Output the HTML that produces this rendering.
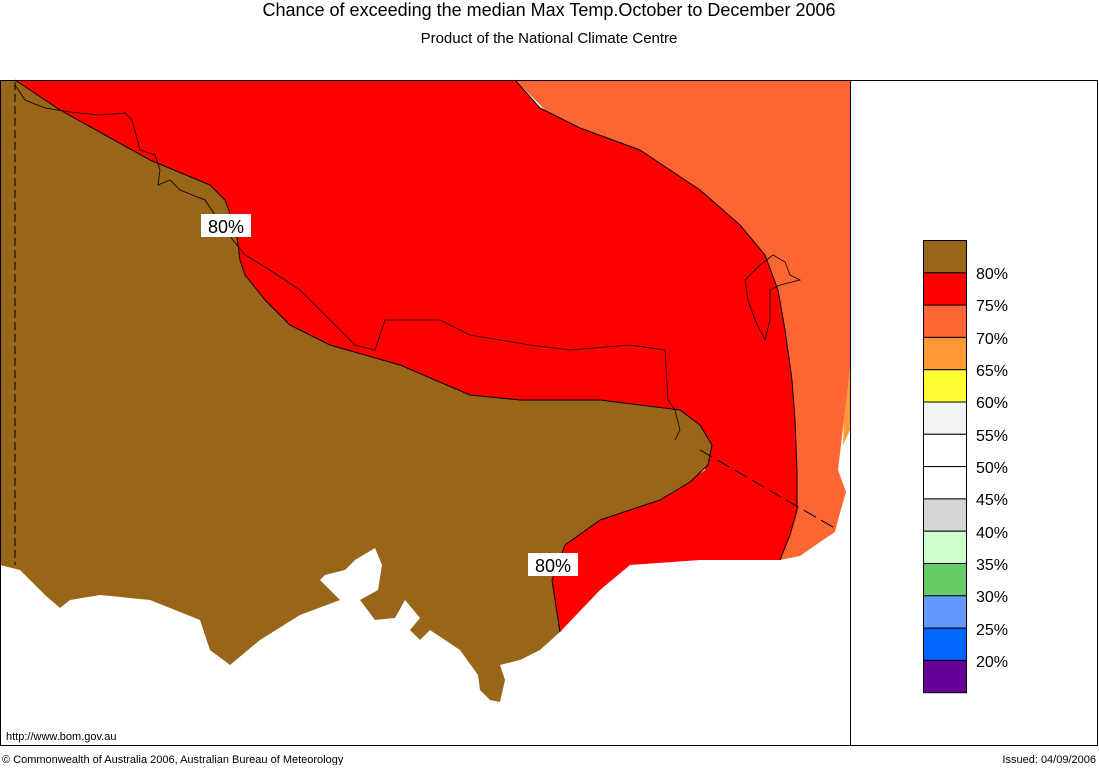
<!DOCTYPE html>
<html><head><meta charset="utf-8"><style>
body{margin:0;background:#fff;width:1099px;height:765px;overflow:hidden;font-family:"Liberation Sans",sans-serif;}
</style></head><body>
<svg width="1099" height="765" xmlns="http://www.w3.org/2000/svg" font-family="Liberation Sans, sans-serif">
<rect width="1099" height="765" fill="#fff"/>
<text x="549" y="16" font-size="18" text-anchor="middle">Chance of exceeding the median Max Temp.October to December 2006</text>
<text x="549" y="43" font-size="15" text-anchor="middle">Product of the National Climate Centre</text>
<!-- orange -->
<polygon fill="#ff6633" points="515,80 850,80 850,370 844,420 838,470 846,492 838,520 835,532 820,542 800,556 780,560 797,510 795,420 785,330 765,255 700,190 640,150 560,125"/>
<polygon fill="#ff9933" points="850,370 850,430 843,445 844,420"/>
<!-- red -->
<polygon fill="#ff0000" points="15,80 515,80 540,108 580,128 640,150 700,190 740,225 765,255 778,290 785,330 792,380 795,420 797,470 797,510 790,535 780,560 700,560 630,565 600,590 560,632 552,580 565,545 600,520 660,500 705,470 710,440 680,410 600,400 520,400 470,395 400,365 330,345 290,325 265,300 245,275 240,260 236,230 225,200 210,185 150,160 60,110"/>
<polyline fill="none" stroke="#000" stroke-width="1" stroke-linejoin="round" points="515,80 540,108 580,128 640,150 700,190 740,225 765,255 778,290 785,330 792,380 795,420 797,470 797,510 790,535 780,560"/>
<!-- brown -->
<polygon fill="#996619" points="0,80 15,80 60,110 150,160 210,185 225,200 236,230 240,260 245,275 265,300 290,325 330,345 400,365 470,395 520,400 600,400 680,410 700,425 712,445 708,465 690,482 660,500 600,520 565,545 552,580 560,632 540,650 520,660 500,665 505,680 500,702 490,700 480,690 478,675 460,650 430,630 420,640 410,630 420,618 405,600 395,618 375,620 360,600 378,590 382,565 375,548 355,560 345,570 325,575 320,580 340,600 300,615 260,640 230,665 210,650 200,620 150,600 100,595 70,600 60,608 45,595 20,570 0,565"/>
<polyline fill="none" stroke="#000" stroke-width="1" stroke-linejoin="round" points="15,80 60,110 150,160 210,185 225,200 236,230 240,260 245,275 265,300 290,325 330,345 400,365 470,395 520,400 600,400 680,410 700,425 712,445 708,465 690,482 660,500 600,520 565,545 552,580 560,632"/>
<polygon fill="#fff" points="345,580 360,565 375,555 380,570 375,590 360,598"/>
<!-- borders -->
<line x1="15" y1="82" x2="15" y2="565" stroke="#000" stroke-dasharray="8,4"/>
<polyline fill="none" stroke="#000" stroke-width="0.8" points="15,85 25,100 45,108 70,112 100,115 125,113 132,120 140,150 155,155 160,170 158,185 170,180 180,190 205,200 225,230 245,255 270,270 300,290 330,320 355,345 375,350 385,320 440,320 470,335 530,345 570,350 630,345 665,350 668,400 675,410 680,430 675,440"/>
<polyline fill="none" stroke="#000" stroke-width="0.8" points="773,255 785,262 790,275 800,280 780,285 770,290 770,320 765,340 755,320 748,300 745,280 760,265 773,255"/>
<line x1="700" y1="450" x2="838" y2="530" stroke="#000" stroke-dasharray="14,6"/>
<!-- labels -->
<rect x="201" y="214" width="50" height="23" fill="#fff"/>
<text x="226" y="233" font-size="18" text-anchor="middle">80%</text>
<rect x="528" y="553" width="50" height="23" fill="#fff"/>
<text x="553" y="572" font-size="18" text-anchor="middle">80%</text>
<!-- frame -->
<rect x="0.5" y="80.5" width="1097" height="665" fill="none" stroke="#000"/>
<line x1="850.5" y1="80" x2="850.5" y2="746" stroke="#000"/>
<text x="6" y="740" font-size="11">http://www.bom.gov.au</text>
<text x="2" y="763" font-size="11">© Commonwealth of Australia 2006, Australian Bureau of Meteorology</text>
<text x="1096" y="763" font-size="11" text-anchor="end">Issued: 04/09/2006</text>
<!-- legend -->
<g stroke="#000" stroke-width="1">
<rect x="923.5" y="240.5" width="43" height="32.3" fill="#996619"/>
<rect x="923.5" y="272.8" width="43" height="32.3" fill="#ff0000"/>
<rect x="923.5" y="305.1" width="43" height="32.3" fill="#ff6633"/>
<rect x="923.5" y="337.4" width="43" height="32.3" fill="#ff9933"/>
<rect x="923.5" y="369.7" width="43" height="32.3" fill="#ffff33"/>
<rect x="923.5" y="402" width="43" height="32.3" fill="#f2f2f2"/>
<rect x="923.5" y="434.3" width="43" height="32.3" fill="#fff"/>
<rect x="923.5" y="466.6" width="43" height="32.3" fill="#fff"/>
<rect x="923.5" y="498.9" width="43" height="32.3" fill="#d6d6d6"/>
<rect x="923.5" y="531.2" width="43" height="32.3" fill="#ccffcc"/>
<rect x="923.5" y="563.5" width="43" height="32.3" fill="#66cc66"/>
<rect x="923.5" y="595.8" width="43" height="32.3" fill="#6699ff"/>
<rect x="923.5" y="628.1" width="43" height="32.3" fill="#0066ff"/>
<rect x="923.5" y="660.4" width="43" height="32.3" fill="#660099"/>
</g>
<g font-size="16">
<text x="976" y="279">80%</text><text x="976" y="311">75%</text><text x="976" y="344">70%</text>
<text x="976" y="376">65%</text><text x="976" y="408">60%</text><text x="976" y="441">55%</text>
<text x="976" y="473">50%</text><text x="976" y="505">45%</text><text x="976" y="538">40%</text>
<text x="976" y="570">35%</text><text x="976" y="602">30%</text><text x="976" y="635">25%</text>
<text x="976" y="667">20%</text>
</g>
</svg>
</body></html>
